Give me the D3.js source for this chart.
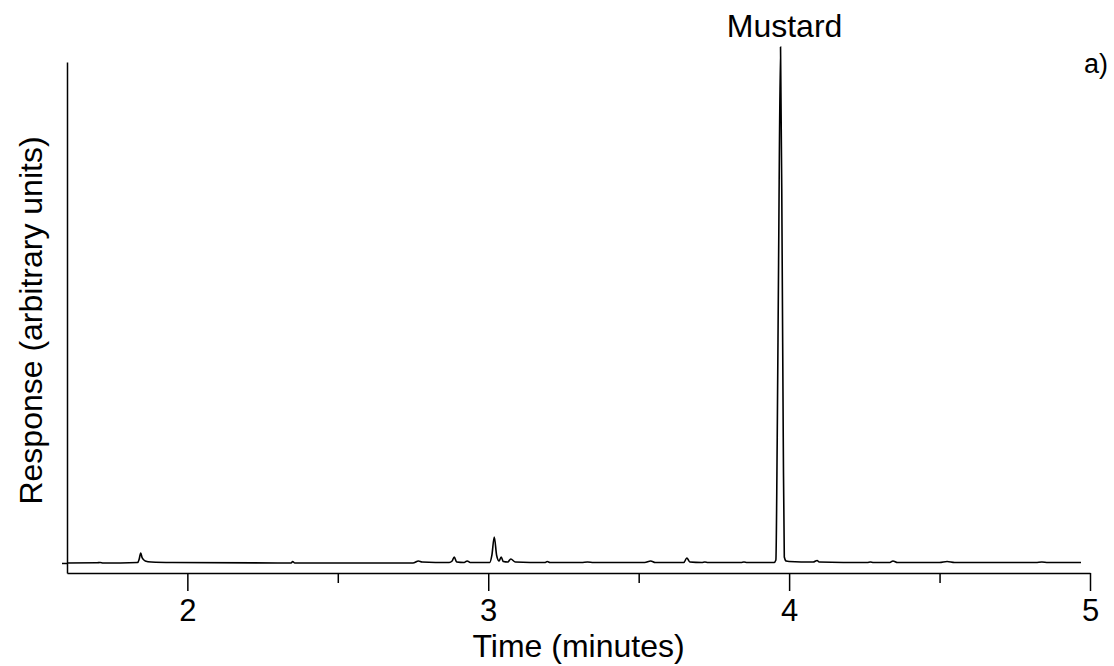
<!DOCTYPE html>
<html>
<head>
<meta charset="utf-8">
<script src="https://cdn.jsdelivr.net/npm/d3@7"></script>
<style>
  body { margin: 0; background: #fff; }
  svg text { font-family: "Liberation Sans", Arial, Helvetica, sans-serif; fill: #000; }
</style>
</head>
<body>
<svg width="1114" height="666"></svg>
<script>
// chromatogram trace (time in minutes, response relative)
var times = [1.60, 1.70, 1.71, 1.72, 1.835, 1.840, 1.845, 1.850, 1.860, 1.880, 1.95,
  2.30, 2.345, 2.350, 2.357, 2.75, 2.768, 2.780, 2.87, 2.880, 2.887, 2.895, 2.920, 2.930, 2.940,
  3.005, 3.012, 3.020, 3.028, 3.036, 3.043, 3.050, 3.065, 3.075, 3.090,
  3.19, 3.196, 3.205, 3.31, 3.33, 3.35, 3.52, 3.54, 3.555, 3.65, 3.660, 3.670,
  3.71, 3.72, 3.73, 3.84, 3.85, 3.86, 3.94,
  3.950, 3.956, 3.9605, 3.965, 3.9715, 3.977, 3.9805, 3.984, 3.990, 4.000,
  4.08, 4.093, 4.10, 4.26, 4.27, 4.28, 4.335, 4.345, 4.36, 4.50, 4.525, 4.55,
  4.82, 4.84, 4.86, 4.97];
var response = [0, 0.0005, 0.001, 0, 0.001, 0.008, 0.020, 0.010, 0.004, 0.002, 0.001,
  0, 0, 0.003, 0, 0, 0.004, 0.002, 0.001, 0.004, 0.012, 0.002, 0.001, 0.004, 0.001,
  0.001, 0.015, 0.052, 0.015, 0.004, 0.012, 0.003, 0.002, 0.008, 0.002,
  0.001, 0.003, 0.001, 0.001, 0.002, 0.001, 0.001, 0.004, 0.001, 0.001, 0.010, 0.002,
  0.001, 0.002, 0.001, 0.001, 0.002, 0.001, 0.001,
  0.001, 0.006, 0.25, 0.6, 1.03, 0.6, 0.25, 0.012, 0.004, 0.003,
  0.002, 0.005, 0.002, 0.001, 0.002, 0.001, 0.001, 0.004, 0.001, 0.001, 0.003, 0.001,
  0.001, 0.002, 0.001, 0.001];

var majorTicks = [2, 3, 4, 5];
var minorTicks = [2.5, 3.5, 4.5];
var peakLabel = {name: "Mustard", time: 3.9715};

var svg = d3.select("svg"),
margin = {top: 62, right: 24, bottom: 93, left: 67},
width = +svg.attr("width") - margin.left - margin.right,
height = +svg.attr("height") - margin.top - margin.bottom;

var g = svg.append("g")
.attr("transform", "translate(" + margin.left + "," + margin.top + ")");

var x = d3.scaleLinear().domain([1.6, 5.0]).range([0, width]),
y = d3.scaleLinear().domain([-0.02, 1.0]).range([height, 0]);

var data = times.map(function(t, i) { return {t: t, v: response[i]}; });

// minor ticks first, then major ticks with labels
g.append("g")
.attr("transform", "translate(0," + height + ")")
.call(d3.axisBottom(x).tickValues(minorTicks).tickSize(10).tickSizeOuter(0).tickFormat(""))
.call(function(a) { a.select(".domain").remove(); });

var xAxis = g.append("g")
.attr("transform", "translate(0," + height + ")")
.call(d3.axisBottom(x).tickValues(majorTicks).tickSize(18).tickSizeOuter(0).tickPadding(8).tickFormat(d3.format("d")));
xAxis.selectAll("text").style("font-size", "31px");

var yAxis = g.append("g")
.call(d3.axisLeft(y).tickValues([0]).tickSize(5).tickSizeOuter(0).tickFormat(""));

svg.selectAll(".domain, .tick line").attr("stroke", "#000").attr("stroke-width", 1.5);

var line = d3.line()
.x(function(d) { return x(d.t); })
.y(function(d) { return y(d.v); })
.curve(d3.curveMonotoneX);

g.append("path")
.datum(data)
.attr("fill", "none")
.attr("stroke", "#000")
.attr("stroke-width", 1.6)
.attr("d", line);

// labels
svg.append("text")
.attr("x", margin.left + width / 2)
.attr("y", 657)
.attr("text-anchor", "middle")
.style("font-size", "32px")
.text("Time (minutes)");

svg.append("text")
.attr("transform", "translate(42," + (margin.top + height / 2 + 3) + ") rotate(-90)")
.attr("text-anchor", "middle")
.style("font-size", "32px")
.text("Response (arbitrary units)");

svg.append("text")
.attr("x", margin.left + x(peakLabel.time) + 4)
.attr("y", 37)
.attr("text-anchor", "middle")
.style("font-size", "32px")
.text(peakLabel.name);

svg.append("text")
.attr("x", 1108)
.attr("y", 73)
.attr("text-anchor", "end")
.style("font-size", "27px")
.text("a)");
</script>
</body>
</html>
